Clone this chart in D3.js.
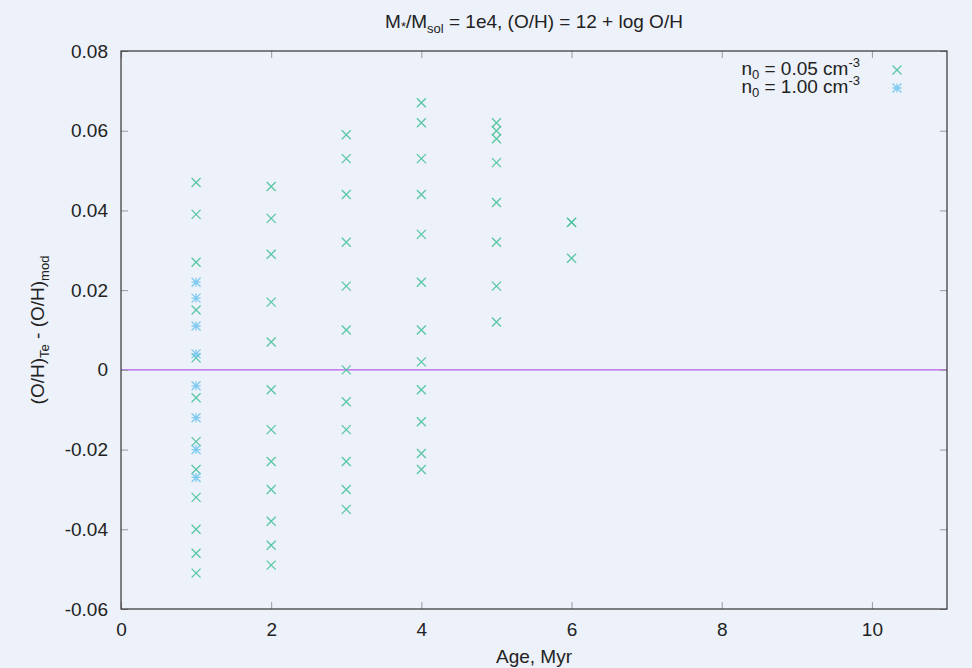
<!DOCTYPE html>
<html>
<head>
<meta charset="utf-8">
<script src="https://cdn.jsdelivr.net/npm/d3@7"></script>
<style>
  html, body { margin: 0; padding: 0; background: #edf1f9; }
  svg { display: block; }
  text { font-family: "Liberation Sans", Arial, Helvetica, sans-serif; fill: #222; }
</style>
</head>
<body>
<svg id="chart" width="972" height="668"></svg>
<script>
// Abundance offset (O/H)_Te - (O/H)_mod versus cluster age, M*/Msol = 1e4
const ages = [1, 2, 3, 4, 5, 6];

// n0 = 0.05 cm^-3 : values for each age column
const lowDensityDiff = [
  [0.047, 0.039, 0.027, 0.015, 0.003, -0.007, -0.018, -0.025, -0.032, -0.040, -0.046, -0.051],
  [0.046, 0.038, 0.029, 0.017, 0.007, -0.005, -0.015, -0.023, -0.030, -0.038, -0.044, -0.049],
  [0.059, 0.053, 0.044, 0.032, 0.021, 0.010, 0.000, -0.008, -0.015, -0.023, -0.030, -0.035],
  [0.067, 0.062, 0.053, 0.044, 0.034, 0.022, 0.010, 0.002, -0.005, -0.013, -0.021, -0.025],
  [0.062, 0.060, 0.058, 0.052, 0.042, 0.032, 0.021, 0.012],
  [0.037, 0.037, 0.028]
];

// n0 = 1.00 cm^-3
const highDensityAges = [1];
const highDensityDiff = [
  [0.022, 0.018, 0.011, 0.004, -0.004, -0.012, -0.020, -0.027]
];

const xTicks = [0, 2, 4, 6, 8, 10];
const yTicks = [-0.06, -0.04, -0.02, 0, 0.02, 0.04, 0.06, 0.08];

const colorLow = "#3fbf95";
const colorHigh = "#6cc3ef";
const colorZero = "#b95ce6";

const FS = 19;   // main font size
const SUB = 13;  // sub/superscript font size

const svg = d3.select("#chart");
const margin = { left: 121, right: 25, top: 51, bottom: 59 };
const W = 972, H = 668;
const x0 = margin.left, x1 = W - margin.right;
const y0 = H - margin.bottom, y1 = margin.top;

const x = d3.scaleLinear().domain([0, 11]).range([x0, x1]);
const y = d3.scaleLinear().domain([-0.06, 0.08]).range([y0, y1]);

// zero line
svg.append("line")
  .attr("x1", x(0)).attr("x2", x(11))
  .attr("y1", y(0)).attr("y2", y(0))
  .attr("stroke", colorZero).attr("stroke-width", 1.2);

// axes with inward ticks, mirrored on all four sides
const tickLen = 7;
const fmtY = d => d === 0 ? "0" : d3.format(".2f")(d).replace("−", "-");

const axisB = svg.append("g").attr("transform", `translate(0,${y0})`)
  .call(d3.axisBottom(x).tickValues(xTicks).tickFormat(d3.format("d")).tickSizeInner(-tickLen).tickSizeOuter(0).tickPadding(14));
const axisT = svg.append("g").attr("transform", `translate(0,${y1})`)
  .call(d3.axisTop(x).tickValues(xTicks).tickFormat("").tickSizeInner(-tickLen).tickSizeOuter(0));
const axisL = svg.append("g").attr("transform", `translate(${x0},0)`)
  .call(d3.axisLeft(y).tickValues(yTicks).tickFormat(fmtY).tickSizeInner(-tickLen).tickSizeOuter(0).tickPadding(13));
const axisR = svg.append("g").attr("transform", `translate(${x1},0)`)
  .call(d3.axisRight(y).tickValues(yTicks).tickFormat("").tickSizeInner(-tickLen).tickSizeOuter(0));

[axisB, axisT, axisL, axisR].forEach(g => {
  g.select(".domain").remove();
  g.selectAll(".tick line").attr("stroke", "#9a9a9a").attr("stroke-width", 1);
  g.selectAll("text").attr("font-size", FS).attr("fill", "#222")
    .style("font-family", "'Liberation Sans', Arial, sans-serif");
});

// frame
svg.append("rect")
  .attr("x", x0).attr("y", y1)
  .attr("width", x1 - x0).attr("height", y0 - y1)
  .attr("fill", "none").attr("stroke", "#333").attr("stroke-width", 1.2);

// marker shapes
const s = 4.5;
const crossPath = `M${-s},${-s}L${s},${s}M${-s},${s}L${s},${-s}`;
const starPath = crossPath + `M0,${-s}L0,${s}M${-s},0L${s},0`;

const lowPoints = [];
ages.forEach((a, i) => lowDensityDiff[i].forEach(v => lowPoints.push([a, v])));
const highPoints = [];
highDensityAges.forEach((a, i) => highDensityDiff[i].forEach(v => highPoints.push([a, v])));

svg.append("g").selectAll("path").data(lowPoints).join("path")
  .attr("transform", d => `translate(${x(d[0])},${y(d[1])})`)
  .attr("d", crossPath)
  .attr("stroke", colorLow).attr("stroke-width", 1.3).attr("fill", "none")
  .attr("stroke-opacity", 0.85);

svg.append("g").selectAll("path").data(highPoints).join("path")
  .attr("transform", d => `translate(${x(d[0])},${y(d[1])})`)
  .attr("d", starPath)
  .attr("stroke", colorHigh).attr("stroke-width", 1.3).attr("fill", "none")
  .attr("stroke-opacity", 0.85);

// title
const title = svg.append("text")
  .attr("x", (x0 + x1) / 2).attr("y", 28)
  .attr("text-anchor", "middle").attr("font-size", FS);
title.append("tspan").text("M");
title.append("tspan").attr("font-size", SUB).attr("dy", 3).text("*");
title.append("tspan").attr("dy", -3).text("/M");
title.append("tspan").attr("font-size", SUB).attr("dy", 5).text("sol");
title.append("tspan").attr("dy", -5).text(" = 1e4, (O/H) = 12 + log O/H");

// x label
svg.append("text")
  .attr("x", (x0 + x1) / 2).attr("y", 663)
  .attr("text-anchor", "middle").attr("font-size", FS)
  .text("Age, Myr");

// y label
const ylab = svg.append("text")
  .attr("transform", `translate(44,${(y0 + y1) / 2}) rotate(-90)`)
  .attr("text-anchor", "middle").attr("font-size", FS);
ylab.append("tspan").text("(O/H)");
ylab.append("tspan").attr("font-size", SUB).attr("dy", 5).text("Te");
ylab.append("tspan").attr("dy", -5).text(" - (O/H)");
ylab.append("tspan").attr("font-size", SUB).attr("dy", 5).text("mod");

// legend
const legend = [
  { label: "0.05", path: crossPath, color: colorLow },
  { label: "1.00", path: starPath, color: colorHigh }
];
legend.forEach((d, i) => {
  const ly = 70 + i * 18;
  const t = svg.append("text")
    .attr("x", 860).attr("y", ly + 5)
    .attr("text-anchor", "end").attr("font-size", FS);
  t.append("tspan").text("n");
  t.append("tspan").attr("font-size", SUB).attr("dy", 4).text("0");
  t.append("tspan").attr("dy", -4).text(` = ${d.label} cm`);
  t.append("tspan").attr("font-size", SUB).attr("dy", -8).text("-3");
  svg.append("path")
    .attr("transform", `translate(897,${ly})`)
    .attr("d", d.path)
    .attr("stroke", d.color).attr("stroke-width", 1.3).attr("fill", "none")
    .attr("stroke-opacity", 0.85);
});
</script>
</body>
</html>
